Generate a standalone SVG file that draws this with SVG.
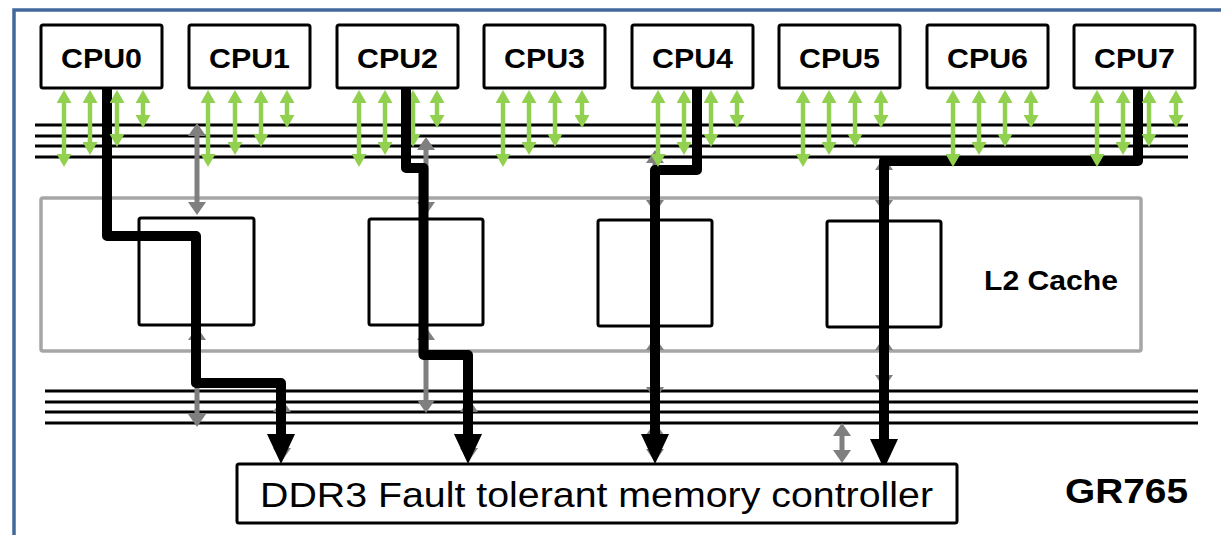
<svg xmlns="http://www.w3.org/2000/svg" width="1221" height="535" viewBox="0 0 1221 535">
  <defs>
    <style>
      .frame { fill: none; stroke: #43699c; stroke-width: 3.5; }
      .cpu { fill: #ffffff; stroke: #000000; stroke-width: 3; }
      .cpu-label { font-family: "Liberation Sans", Arial, sans-serif; font-weight: bold; font-size: 28px; fill: #000000; }
      .bus { stroke: #000000; stroke-width: 3; }
      .l2 { fill: none; stroke: #a6a6a6; stroke-width: 3.5; }
      .bank { fill: none; stroke: #000000; stroke-width: 3; }
      .green { stroke: #92d050; stroke-width: 4.5; marker-start: url(#gHead); marker-end: url(#gHead); }
      .grey { stroke: #7f7f7f; stroke-width: 5; marker-start: url(#kHead); marker-end: url(#kHead); }
      .route { fill: none; stroke: #000000; stroke-width: 10; stroke-linejoin: round; marker-end: url(#bHead); }
      .label { font-family: "Liberation Sans", Arial, sans-serif; fill: #000000; }
    </style>
    <marker id="gHead" markerUnits="userSpaceOnUse" markerWidth="13" markerHeight="15" refX="5" refY="7.5" orient="auto-start-reverse">
      <path d="M0,0 L13,7.5 L0,15 z" fill="#92d050"/>
    </marker>
    <marker id="kHead" markerUnits="userSpaceOnUse" markerWidth="13" markerHeight="18" refX="5" refY="9" orient="auto-start-reverse">
      <path d="M0,0 L13,9 L0,18 z" fill="#7f7f7f"/>
    </marker>
    <marker id="bHead" markerUnits="userSpaceOnUse" markerWidth="30" markerHeight="28" refX="8" refY="14" orient="auto">
      <path d="M0,0 L30,14 L0,28 z" fill="#000000"/>
    </marker>
  </defs>

  <rect width="1221" height="535" fill="#ffffff"/>
  <rect class="frame" x="14" y="10" width="1240" height="560"/>

  <!-- processor-side buses -->
  <g id="upper-bus">
    <line class="bus" x1="35" y1="125" x2="1188" y2="125"/>
    <line class="bus" x1="35" y1="136" x2="1188" y2="136"/>
    <line class="bus" x1="35" y1="146" x2="1188" y2="146"/>
    <line class="bus" x1="35" y1="157" x2="1188" y2="157"/>
  </g>

  <!-- memory-side buses -->
  <g id="lower-bus">
    <line class="bus" x1="45" y1="391" x2="1198" y2="391"/>
    <line class="bus" x1="45" y1="402" x2="1198" y2="402"/>
    <line class="bus" x1="45" y1="412" x2="1198" y2="412"/>
    <line class="bus" x1="45" y1="423" x2="1198" y2="423"/>
  </g>

  <g id="l2-cache">
    <rect class="l2" x="41" y="198" width="1100" height="153" rx="2"/>
    <rect class="bank" x="139" y="218" width="115" height="107" rx="2"/>
    <rect class="bank" x="369" y="219" width="114" height="106" rx="2"/>
    <rect class="bank" x="598" y="220" width="114" height="106" rx="2"/>
    <rect class="bank" x="827" y="221" width="114" height="106" rx="2"/>
    <text class="label" x="984" y="290" font-weight="bold" font-size="27" textLength="134" lengthAdjust="spacingAndGlyphs">L2 Cache</text>
  </g>

  <g id="connectors">
    <!-- cache bank links -->
    <g id="bank-links">
      <line class="grey" x1="197" y1="131" x2="197" y2="207"/>
      <line class="grey" x1="197" y1="335" x2="197" y2="419"/>
      <line class="grey" x1="282" y1="407" x2="282" y2="453"/>

      <line class="grey" x1="426" y1="145" x2="426" y2="207"/>
      <line class="grey" x1="426" y1="335" x2="426" y2="405"/>
      <line class="grey" x1="469" y1="407" x2="469" y2="453"/>

      <line class="grey" x1="655" y1="158" x2="655" y2="205"/>
      <line class="grey" x1="655" y1="345" x2="655" y2="392"/>
      <line class="grey" x1="655" y1="430" x2="655" y2="454"/>

      <line class="grey" x1="884" y1="165" x2="884" y2="205"/>
      <line class="grey" x1="884" y1="345" x2="884" y2="380"/>
      <line class="grey" x1="842" y1="431" x2="842" y2="455"/>
    </g>

    <!-- link partly hidden behind the CPU2 route -->
    <line class="green" x1="413" y1="98" x2="413" y2="139"/>

    <!-- highlighted access routes -->
    <g id="routes">
      <path class="route" d="M107,88 V236 H196 V383 H281 V442"/>
      <path class="route" d="M406,88 V168 H423.5 V355 H468 V442"/>
      <path class="route" d="M697,88 V170 H655 V442"/>
      <path class="route" d="M1138,88 V161 H884 V447"/>
    </g>

    <!-- CPU to bus links -->
    <g id="cpu-links">
      <line class="green" x1="64" y1="98" x2="64" y2="159"/>
      <line class="green" x1="90" y1="98" x2="90" y2="147"/>
      <line class="green" x1="117" y1="98" x2="117" y2="139"/>
      <line class="green" x1="143" y1="98" x2="143" y2="120"/>

      <line class="green" x1="208" y1="98" x2="208" y2="159"/>
      <line class="green" x1="235" y1="98" x2="235" y2="147"/>
      <line class="green" x1="261" y1="98" x2="261" y2="139"/>
      <line class="green" x1="287" y1="98" x2="287" y2="120"/>

      <line class="green" x1="359" y1="98" x2="359" y2="159"/>
      <line class="green" x1="385" y1="98" x2="385" y2="147"/>
      <line class="green" x1="437" y1="98" x2="437" y2="120"/>

      <line class="green" x1="503" y1="98" x2="503" y2="159"/>
      <line class="green" x1="529" y1="98" x2="529" y2="147"/>
      <line class="green" x1="555" y1="98" x2="555" y2="139"/>
      <line class="green" x1="582" y1="98" x2="582" y2="120"/>

      <line class="green" x1="658" y1="98" x2="658" y2="159"/>
      <line class="green" x1="684" y1="98" x2="684" y2="147"/>
      <line class="green" x1="711" y1="98" x2="711" y2="139"/>
      <line class="green" x1="737" y1="98" x2="737" y2="120"/>

      <line class="green" x1="803" y1="98" x2="803" y2="159"/>
      <line class="green" x1="829" y1="98" x2="829" y2="147"/>
      <line class="green" x1="855" y1="98" x2="855" y2="139"/>
      <line class="green" x1="881" y1="98" x2="881" y2="120"/>

      <line class="green" x1="953" y1="98" x2="953" y2="159"/>
      <line class="green" x1="979" y1="98" x2="979" y2="147"/>
      <line class="green" x1="1005" y1="98" x2="1005" y2="139"/>
      <line class="green" x1="1031" y1="98" x2="1031" y2="120"/>

      <line class="green" x1="1097" y1="98" x2="1097" y2="159"/>
      <line class="green" x1="1123" y1="98" x2="1123" y2="147"/>
      <line class="green" x1="1149" y1="98" x2="1149" y2="139"/>
      <line class="green" x1="1176" y1="98" x2="1176" y2="120"/>
    </g>
  </g>

  <g id="cpu0"><rect class="cpu" x="41" y="25" width="121" height="63" rx="2"/><text class="cpu-label" x="61" y="68" textLength="81" lengthAdjust="spacingAndGlyphs">CPU0</text></g>
  <g id="cpu1"><rect class="cpu" x="189" y="25" width="121" height="63" rx="2"/><text class="cpu-label" x="209" y="68" textLength="81" lengthAdjust="spacingAndGlyphs">CPU1</text></g>
  <g id="cpu2"><rect class="cpu" x="337" y="25" width="121" height="63" rx="2"/><text class="cpu-label" x="357" y="68" textLength="81" lengthAdjust="spacingAndGlyphs">CPU2</text></g>
  <g id="cpu3"><rect class="cpu" x="484" y="25" width="121" height="63" rx="2"/><text class="cpu-label" x="504" y="68" textLength="81" lengthAdjust="spacingAndGlyphs">CPU3</text></g>
  <g id="cpu4"><rect class="cpu" x="632" y="25" width="121" height="63" rx="2"/><text class="cpu-label" x="652" y="68" textLength="81" lengthAdjust="spacingAndGlyphs">CPU4</text></g>
  <g id="cpu5"><rect class="cpu" x="779" y="25" width="121" height="63" rx="2"/><text class="cpu-label" x="799" y="68" textLength="81" lengthAdjust="spacingAndGlyphs">CPU5</text></g>
  <g id="cpu6"><rect class="cpu" x="927" y="25" width="121" height="63" rx="2"/><text class="cpu-label" x="947" y="68" textLength="81" lengthAdjust="spacingAndGlyphs">CPU6</text></g>
  <g id="cpu7"><rect class="cpu" x="1074" y="25" width="121" height="63" rx="2"/><text class="cpu-label" x="1094" y="68" textLength="81" lengthAdjust="spacingAndGlyphs">CPU7</text></g>

  <g id="memory-controller">
    <rect x="237" y="464" width="720" height="59" rx="2" fill="#ffffff" stroke="#000000" stroke-width="3"/>
    <text class="label" x="260" y="507" font-size="35" textLength="673" lengthAdjust="spacingAndGlyphs">DDR3 Fault tolerant memory controller</text>
  </g>

  <g id="chip-name">
    <text class="label" x="1065" y="503" font-weight="bold" font-size="35" textLength="123" lengthAdjust="spacingAndGlyphs">GR765</text>
  </g>
</svg>
